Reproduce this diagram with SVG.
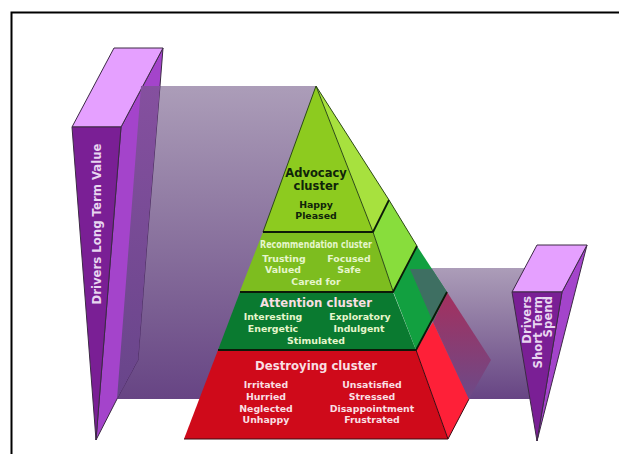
<svg xmlns="http://www.w3.org/2000/svg" width="619" height="454" viewBox="0 0 619 454">
<style>
text{font-family:"DejaVu Sans","Liberation Sans",sans-serif;font-weight:700;text-anchor:middle}
.edge{stroke:#3c2a45;stroke-width:1}
.div{stroke:#0c1a08;stroke-width:1.800;fill:none}
.thin{stroke:#2c4a14;stroke-width:1;fill:none}
.top{fill:#e5a0ff}.front{fill:#7a1f95}.side{fill:#a444cb}
.h{font-size:11.7px}.s{font-size:9.4px}
.w{fill:#f9dfe2}.g{fill:#e6f6cc}.l{fill:#e8d6f0}
</style>
<defs>
<linearGradient id="band" x1="0" y1="0" x2="0" y2="1"><stop offset="0" stop-color="#4a2a66" stop-opacity=".46"/><stop offset="1" stop-color="#4e2670" stop-opacity=".86"/></linearGradient>
<linearGradient id="strip" gradientUnits="userSpaceOnUse" x1="0" y1="86" x2="0" y2="399"><stop offset="0" stop-color="#85509f"/><stop offset="1" stop-color="#68458a"/></linearGradient>
<linearGradient id="tip" gradientUnits="userSpaceOnUse" x1="0" y1="292" x2="0" y2="399"><stop offset="0" stop-color="#a4305e"/><stop offset="1" stop-color="#6c4a88"/></linearGradient>
</defs>
<rect width="619" height="454" fill="#fff"/>
<path d="M11.500 454V12.500H619" fill="none" stroke="#000" stroke-width="2"/>
<g id="drivers-long-term-value">
<polygon class="side edge" points="121,127 163,48 160,86 148,230 138,360 117,399 96,440"/>
<polygon class="top edge" points="114,48 163,48 121,127 72,127"/>
<polygon class="front edge" points="72,127 121,127 96,440"/>
<text class="h l" transform="translate(100.500 224) rotate(-90)">Drivers Long Term Value</text>
</g>
<g id="connectors">
<polygon fill="url(#band)" points="160,86 316,86 240,399 117,399 138,360 148,230"/>
<polygon fill="url(#strip)" points="141,86 160,86 148,230 138,360 117,399"/>
<polygon fill="url(#band)" points="400,268 525,268 530,399 440,399"/>
</g>
<g id="advocacy-cluster">
<polygon fill="#a7e13e" points="316,86 389,200 373,232"/>
<polygon fill="#8dcb1f" points="316,86 373,232 263,232"/>
<path class="thin" d="M263,232 316,86 373,232M316,86 389,200"/>
<text x="316" y="177" font-size="11.500" fill="#10240a">Advocacy</text>
<text x="316" y="190" font-size="11.500" fill="#10240a">cluster</text>
<text x="316" y="208" class="s" fill="#10240a">Happy</text>
<text x="316" y="219" class="s" fill="#10240a">Pleased</text>
</g>
<g id="recommendation-cluster">
<polygon fill="#88dd3c" points="373,232 389,200 417,246 393,291"/>
<polygon fill="#7dbd1f" points="263,232 373,232 393,291 240,291"/>
<path class="div" d="M263,232H373L389,200"/>
<path class="thin" d="M373,232 393,291M389,200 417,246"/>
<text x="316" y="248" font-size="10" class="g" textLength="112" lengthAdjust="spacingAndGlyphs">Recommendation cluster</text>
<text x="284" y="262" class="s g">Trusting</text>
<text x="283" y="273" class="s g">Valued</text>
<text x="349" y="262" class="s g">Focused</text>
<text x="349" y="273" class="s g">Safe</text>
<text x="316" y="285" class="s g">Cared for</text>
</g>
<g id="attention-cluster">
<polygon fill="#12a040" points="393,291 417,246 447,292 416,350"/>
<polygon fill="#0a7a30" points="240,292 393,292 416,350 218,350"/>
<path class="div" d="M240,292H393L417,246"/>
<text x="316" y="307" class="h w">Attention cluster</text>
<text x="273" y="320" class="s g">Interesting</text>
<text x="273" y="332" class="s g">Energetic</text>
<text x="360" y="320" class="s g">Exploratory</text>
<text x="359" y="332" class="s g">Indulgent</text>
<text x="316" y="344" class="s g">Stimulated</text>
</g>
<g id="destroying-cluster">
<polygon fill="#fe2038" points="416,350 433,322 469,399 448,439"/>
<polygon fill="#cf0a1a" points="218,350 416,350 448,439 184,439"/>
<polygon fill="url(#tip)" points="433,322 447,292 491,360 469,399"/>
<polygon fill="#3e6f62" points="410,269 432,269 447,292 433,322"/>
<path class="div" d="M218,350H416L447,292"/>
<path fill="none" stroke="#3a0a10" stroke-width="1" d="M184,439H448L469,399M416,350 448,439"/>
<text x="316" y="370" class="h w">Destroying cluster</text>
<text x="266" y="388" class="s w">Irritated</text>
<text x="266" y="400" class="s w">Hurried</text>
<text x="266" y="412" class="s w">Neglected</text>
<text x="266" y="423" class="s w">Unhappy</text>
<text x="372" y="388" class="s w">Unsatisfied</text>
<text x="372" y="400" class="s w">Stressed</text>
<text x="372" y="412" class="s w">Disappointment</text>
<text x="372" y="423" class="s w">Frustrated</text>
</g>
<g id="drivers-short-term-spend">
<polygon class="side edge" points="562,292 587,245 537,441"/>
<polygon class="top edge" points="537,245 587,245 562,292 512,292"/>
<polygon class="front edge" points="512,292 562,292 537,441"/>
<text class="h l" style="text-anchor:end" transform="translate(531 296) rotate(-90)">Drivers</text>
<text class="h l" style="text-anchor:end" transform="translate(541.500 296) rotate(-90)">Short Term</text>
<text class="h l" style="text-anchor:end" transform="translate(552 296) rotate(-90)">Spend</text>
</g>
</svg>
